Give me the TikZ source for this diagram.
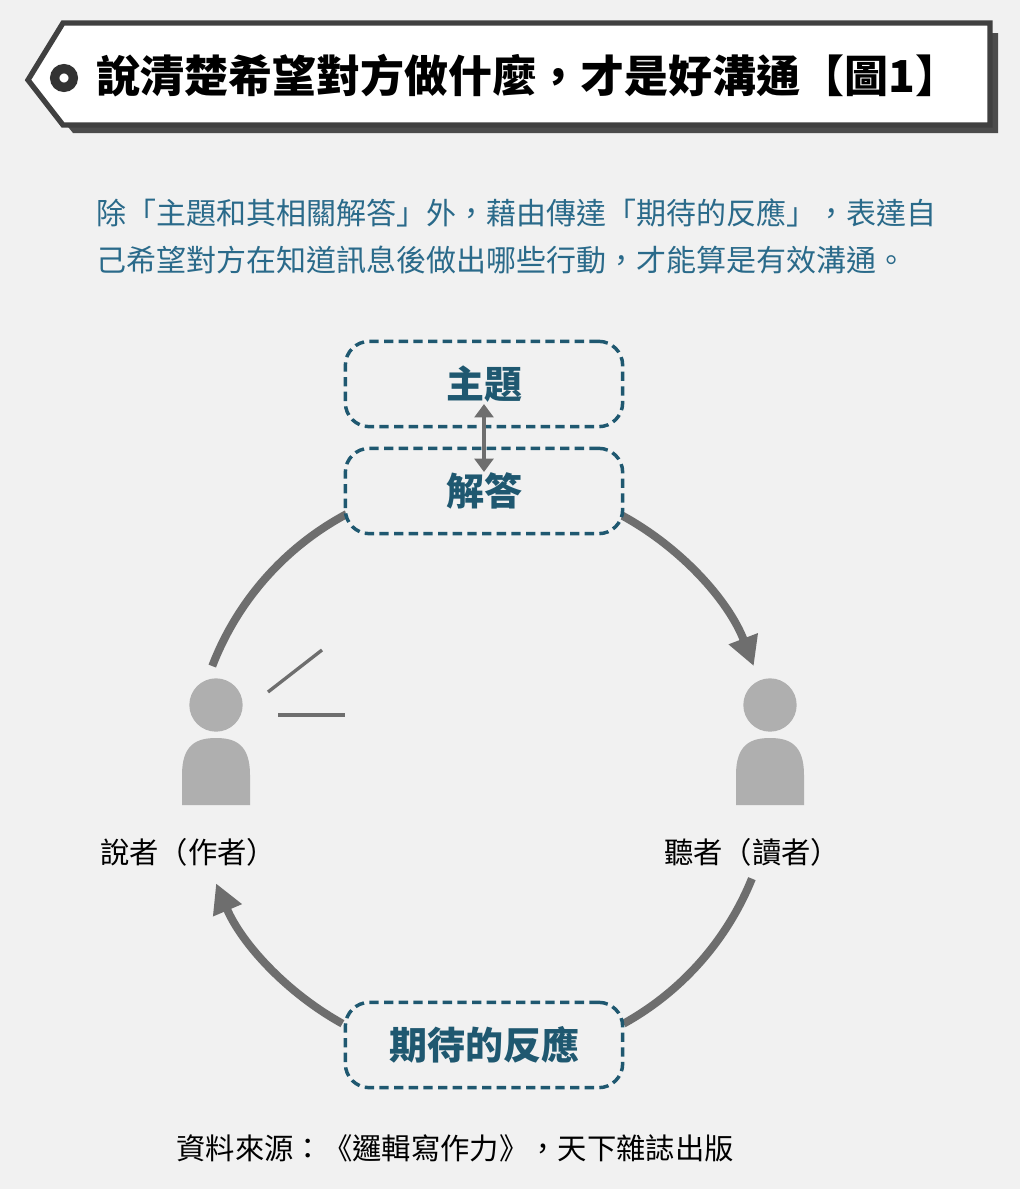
\documentclass[tikz,border=0pt]{standalone}
\usepackage{fontspec}
\setmainfont{Noto Sans CJK TC}
\usetikzlibrary{arrows.meta}
\definecolor{bgc}{HTML}{F1F1F1}
\definecolor{teal}{HTML}{1F5870}
\definecolor{txt}{HTML}{2A6A8A}
\definecolor{arc}{HTML}{6E6E6E}
\definecolor{person}{HTML}{AFAFAF}
\begin{document}
\begin{tikzpicture}[x=0.75pt, y=-0.75pt,
    tag/.style={draw=teal, dash pattern=on 7pt off 4pt, line width=2.6pt, rounded corners=18pt, fill=bgc,
      minimum width=208pt, minimum height=64pt, text=teal, font=\fontsize{28.5}{32}\selectfont\bfseries},
    flow/.style={draw=arc, line width=6pt},
    head/.style={fill=person, circle, minimum size=40pt, inner sep=0pt}]
  \fill[bgc] (0,0) rectangle (1020,1189);
  % banner
  \fill[black!70] (38,90) -- (73,33) -- (998,33) -- (998,133) -- (73,133) -- cycle;
  \filldraw[fill=white, draw=black!75, line width=4pt] (28,80) -- (63,23) -- (990,23) -- (990,125) -- (63,125) -- cycle;
  \draw[black!80, line width=7pt] (64,78) circle (7pt);
  \node[anchor=west, font=\fontsize{33}{36}\selectfont\bfseries] (title) at (92,76) {說清楚希望對方做什麼，才是好溝通【圖1】};
  % text
  \node[anchor=west, text=txt, font=\fontsize{22.5}{26}\selectfont] (line1) at (92,213) {除「主題和其相關解答」外，藉由傳達「期待的反應」，表達自};
  \node[anchor=west, text=txt, font=\fontsize{22.5}{26}\selectfont] (line2) at (92,260) {己希望對方在知道訊息後做出哪些行動，才能算是有效溝通。};
  % cycle
  \coordinate (c) at (483,770);
  \draw[flow] ([shift={(-118:290)}]c) arc[start angle=118, end angle=159, radius=217.5pt];
  \draw[flow, -{Triangle[length=22pt, width=22pt]}] ([shift={(-62:290)}]c) arc[start angle=62, end angle=21, radius=217.5pt];
  \draw[flow] ([shift={(22:290)}]c) arc[start angle=-22, end angle=-61, radius=217.5pt];
  \draw[flow, -{Triangle[length=22pt, width=22pt]}] ([shift={(119:290)}]c) arc[start angle=-119, end angle=-157, radius=217.5pt];
  \node[tag] (topic) at (484,384) {主題};
  \node[tag] (answer) at (484,491) {解答};
  \node[tag] (react) at (484,1045) {期待的反應};
  \draw[arc, line width=3pt, {Triangle[length=10pt, width=14pt]}-{Triangle[length=10pt, width=14pt]}] (484,404) -- (484,472);
  % persons
  \foreach \px/\nm in {216/spk, 770/lis} {
    \node[head] (\nm) at (\px,705) {};
    \fill[person] (\px-34,805) -- (\px-34,775) .. controls (\px-34,745) and (\px-20,738) .. (\px,738)
      .. controls (\px+20,738) and (\px+34,745) .. (\px+34,775) -- (\px+34,805) -- cycle;
  }
  \draw[arc, line width=2.5pt] (268,692) -- (322,650);
  \draw[arc, line width=2.5pt] (278,715) -- (345,715);
  \node[font=\fontsize{22}{26}\selectfont] (spkl) at (188,852) {說者（作者）};
  \node[font=\fontsize{22}{26}\selectfont] (lisl) at (752,852) {聽者（讀者）};
  \node[font=\fontsize{22}{26}\selectfont] (src) at (455,1148) {資料來源：《邏輯寫作力》，天下雜誌出版};
\end{tikzpicture}
\end{document}
